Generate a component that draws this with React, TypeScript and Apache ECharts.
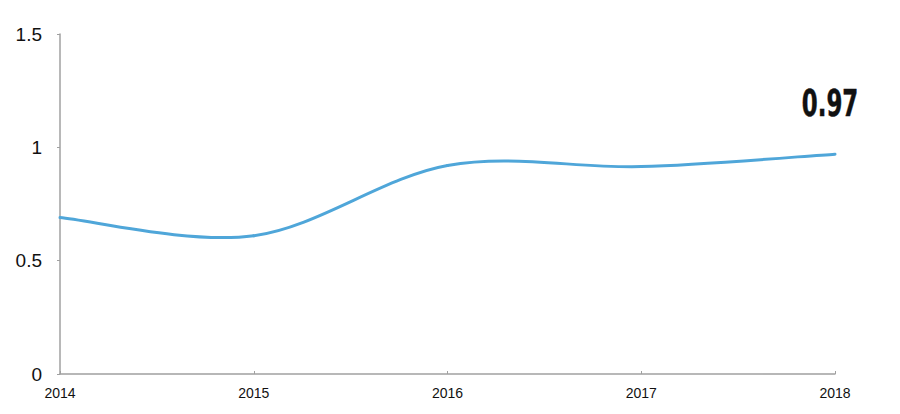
import React, { useEffect, useRef } from "react";
import * as echarts from "echarts";

const categories = ["2014", "2015", "2016", "2017", "2018"];
const values = [0.69, 0.61, 0.92, 0.915, 0.97];
const yTicks = [0, 0.5, 1, 1.5];
const endLabel = "0.97";

export default function App() {
  const ref = useRef<HTMLDivElement>(null);
  useEffect(() => {
    if (!ref.current) return;
    const chart = echarts.init(ref.current, null, { renderer: "svg" });
    const n = values.length;
    const clampIdx = (k: number) => Math.max(0, Math.min(n - 1, k));
    chart.setOption({
      animation: false,
      backgroundColor: "#ffffff",
      grid: { left: 60, right: 65, top: 34, bottom: 40, containLabel: false },
      xAxis: {
        type: "category",
        data: categories,
        boundaryGap: false,
        axisLine: { lineStyle: { color: "#a0a0a0", width: 1.5 } },
        axisTick: { show: true, inside: true, length: 3, lineStyle: { color: "#a0a0a0" } },
        axisLabel: {
          color: "#111",
          fontFamily: "Liberation Sans, Arial, sans-serif",
          fontSize: 14,
          margin: 12,
        },
        splitLine: { show: false },
      },
      yAxis: {
        type: "value",
        min: yTicks[0],
        max: yTicks[yTicks.length - 1],
        interval: 0.5,
        axisLine: { show: true, lineStyle: { color: "#a0a0a0", width: 1.5 } },
        axisTick: { show: true, length: 3, lineStyle: { color: "#a0a0a0" } },
        axisLabel: {
          color: "#111",
          fontFamily: "Liberation Sans, Arial, sans-serif",
          fontSize: 19,
          margin: 18,
        },
        splitLine: { show: false },
      },
      series: [
        {
          type: "custom",
          clip: false,
          data: values.map((v, i) => [i, v]),
          encode: { x: 0, y: 1 },
          renderItem: (params: any, api: any) => {
            const i = params.dataIndex;
            const pt = (k: number) => {
              const c = clampIdx(k);
              return api.coord([c, values[c]]);
            };
            if (i === n - 1) {
              const p = pt(i);
              return {
                type: "text",
                x: p[0] - 5,
                y: p[1] - 32,
                scaleX: 0.67,
                style: {
                  text: endLabel,
                  align: "center",
                  verticalAlign: "bottom",
                  fontFamily: "DejaVu Sans Condensed, DejaVu Sans, sans-serif",
                  fontWeight: "bold",
                  fontSize: 38,
                  fill: "#111",
                  stroke: "#111",
                  lineWidth: 0.5,
                },
              };
            }
            const p0 = pt(i - 1);
            const p1 = pt(i);
            const p2 = pt(i + 1);
            const p3 = pt(i + 2);
            const t = 1 / 6;
            return {
              type: "bezierCurve",
              shape: {
                x1: p1[0],
                y1: p1[1],
                cpx1: p1[0] + (p2[0] - p0[0]) * t,
                cpy1: p1[1] + (p2[1] - p0[1]) * t,
                cpx2: p2[0] - (p3[0] - p1[0]) * t,
                cpy2: p2[1] - (p3[1] - p1[1]) * t,
                x2: p2[0],
                y2: p2[1],
              },
              style: { stroke: "#4fa6d9", lineWidth: 3, fill: null, lineCap: "round" },
            };
          },
        },
      ],
    });
    return () => chart.dispose();
  }, []);
  return (
    <div
      ref={ref}
      style={{ position: "absolute", left: 0, top: 0, width: 900, height: 414 }}
    />
  );
}
